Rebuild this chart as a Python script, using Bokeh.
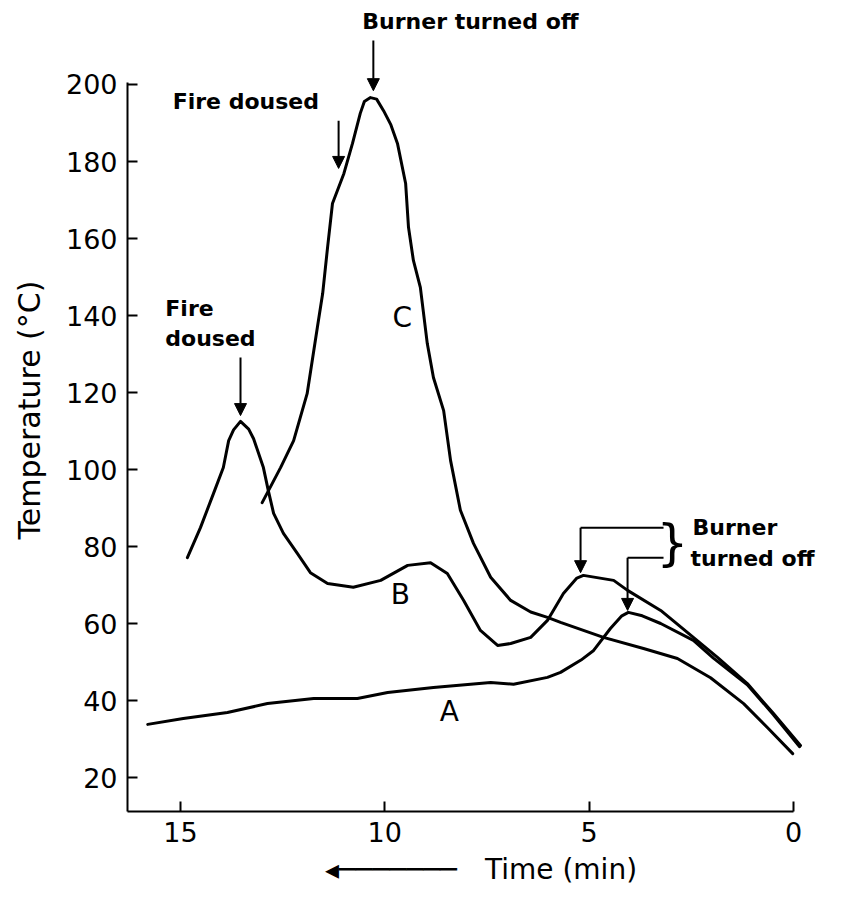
from bokeh.plotting import figure
from bokeh.models import Range1d, FixedTicker, Label, Arrow, NormalHead
from bokeh.embed import file_html
from bokeh.resources import INLINE

# ---------------- data (time before end in min, temperature in degC) ----------------
a_time = [15.8, 14.93, 13.85, 12.87, 11.74, 10.67, 9.93, 8.81, 7.41, 6.85, 6.02, 5.7,
          5.2, 4.89, 4.48, 4.2, 4.04, 3.7, 3.25, 2.45, 1.96, 1.13, 0.49, -0.15]
a_temp = [33.8, 35.3, 36.9, 39.2, 40.5, 40.5, 42.1, 43.4, 44.7, 44.2, 46.0, 47.3,
          50.5, 53.0, 58.7, 62.0, 62.9, 62.0, 60.0, 55.6, 51.0, 44.1, 36.3, 28.0]

b_time = [14.83, 14.51, 14.19, 13.95, 13.82, 13.7, 13.53, 13.33, 13.21, 12.97, 12.85,
          12.72, 12.48, 12.14, 11.82, 11.4, 10.77, 10.1, 9.44, 8.88, 8.47, 8.07, 7.66,
          7.24, 6.92, 6.43, 6.02, 5.63, 5.3, 5.14, 4.4, 4.06, 3.25, 2.45, 1.86, 1.13,
          0.49, -0.17]
b_temp = [77.1, 84.9, 93.8, 100.5, 107.5, 110.3, 112.5, 110.5, 108.0, 100.5, 94.5,
          88.6, 83.4, 78.2, 73.2, 70.4, 69.4, 71.2, 75.1, 75.8, 73.0, 66.0, 58.2,
          54.3, 54.8, 56.4, 60.8, 67.8, 71.8, 72.5, 71.2, 68.6, 63.4, 56.4, 51.2, 44.4,
          36.6, 28.3]

c_time = [13.0, 12.55, 12.23, 11.9, 11.65, 11.52, 11.4, 11.28, 11.0, 10.79, 10.6,
          10.5, 10.35, 10.2, 10.03, 9.85, 9.69, 9.49, 9.42, 9.3, 9.13, 8.96, 8.81,
          8.56, 8.39, 8.15, 7.83, 7.41, 6.92, 6.43, 6.02, 5.7, 4.65, 3.67, 2.84, 2.03,
          1.22, 0.64, 0.02]
c_temp = [91.4, 100.5, 107.5, 119.7, 136.9, 145.7, 157.7, 169.1, 176.9, 184.7, 192.5,
          195.6, 196.6, 196.2, 193.2, 189.5, 184.7, 174.3, 162.9, 154.3, 147.3, 132.7,
          123.9, 115.3, 102.3, 89.4, 80.8, 72.0, 66.0, 63.0, 61.6, 60.3, 56.4, 53.5,
          50.9, 45.9, 39.2, 33.0, 26.2]

curve_names = ["A", "B", "C"]
curve_label_time = [8.42, 9.62, 9.57]
curve_label_temp = [37.1, 67.5, 139.5]

x_ticks = [15, 10, 5, 0]
y_ticks = [20, 40, 60, 80, 100, 120, 140, 160, 180, 200]

FONT = "DejaVu Sans"

p = figure(width=842, height=901, output_backend="svg", toolbar_location=None,
           x_range=Range1d(16.295, -1.003), y_range=Range1d(11.17, 219.74),
           min_border_left=127, min_border_right=8, min_border_top=8,
           min_border_bottom=90)
p.outline_line_color = None
p.grid.visible = False
p.background_fill_color = "white"
p.border_fill_color = "white"

for t, T in [(a_time, a_temp), (b_time, b_temp), (c_time, c_temp)]:
    p.line(t, T, line_color="black", line_width=3, line_join="round", line_cap="round")

p.xaxis.ticker = FixedTicker(ticks=x_ticks)
p.yaxis.ticker = FixedTicker(ticks=y_ticks)
p.xaxis.bounds = (0, 16.295)
p.yaxis.bounds = (11.17, 200.5)
for ax in p.axis:
    ax.axis_line_width = 2
    ax.axis_line_color = "black"
    ax.major_tick_line_width = 2
    ax.major_tick_line_color = "black"
    ax.major_tick_in = 10
    ax.major_tick_out = 0
    ax.minor_tick_in = 0
    ax.minor_tick_out = 0
    ax.major_label_text_font = FONT
    ax.major_label_text_font_size = "27px"
    ax.major_label_text_color = "black"
    ax.major_label_standoff = 10
    ax.axis_label_text_font = FONT
    ax.axis_label_text_font_style = "normal"
    ax.axis_label_text_color = "black"

p.yaxis.axis_label = "Temperature (°C)"
p.yaxis.axis_label_text_font_size = "30px"
p.yaxis.axis_label_standoff = 16

p.xaxis.axis_label = "◂───────\u2003Time (min)"
p.xaxis.axis_label_text_font_size = "28px"
p.xaxis.axis_label_standoff = 8

# curve labels
for name, tx, ty in zip(curve_names, curve_label_time, curve_label_temp):
    p.add_layout(Label(x=tx, y=ty, text=name, text_align="center",
                       text_baseline="middle", text_font=FONT, text_font_size="28px",
                       text_color="black"))


def note(x, y, text, size="22px"):
    p.add_layout(Label(x=x, y=y, text=text, text_align="left", text_baseline="middle",
                       text_font=FONT, text_font_size=size, text_font_style="bold",
                       text_color="black"))


def down_arrow(x, y0, y1):
    p.add_layout(Arrow(x_start=x, y_start=y0, x_end=x, y_end=y1, line_color="black",
                       line_width=2,
                       end=NormalHead(size=12, fill_color="black", line_color="black")))


# top: burner turned off (curve C)
note(10.55, 216.4, "Burner turned off")
down_arrow(10.28, 211.4, 198.4)
# fire doused (curve C)
note(15.19, 195.6, "Fire doused")
down_arrow(11.13, 190.6, 178.2)
# fire doused (curve B)
note(15.37, 141.8, "Fire")
note(15.37, 134.0, "doused")
down_arrow(13.53, 129.1, 114.0)
# burner turned off (curves A and B)
note(2.47, 84.9, "Burner")
note(2.52, 76.9, "turned off")
p.add_layout(Label(x=2.96, y=81.0, text="}", text_align="center", text_baseline="middle",
                   text_font=FONT, text_font_size="50px", text_color="black"))
p.line([3.18, 5.21], [84.9, 84.9], line_color="black", line_width=2)
down_arrow(5.21, 84.9, 73.2)
p.line([3.18, 4.06], [77.1, 77.1], line_color="black", line_width=2)
down_arrow(4.06, 77.1, 63.4)

open("out.html", "w").write(file_html(p, INLINE))
